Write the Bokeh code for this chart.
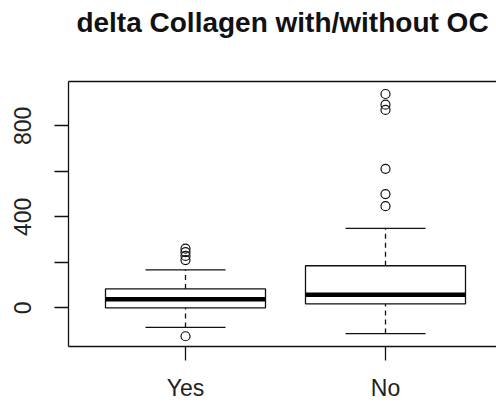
from bokeh.plotting import figure
from bokeh.models import Range1d, LinearAxis, FixedTicker
from bokeh.embed import file_html
from bokeh.resources import INLINE

# Group labels and five-number summaries for delta collagen
groups = ["Yes", "No"]
positions = [1, 2]
lower_whisker = [-86, -113]
q1 = [0, 17]
median = [38, 57]
q3 = [83, 185]
upper_whisker = [167, 349]

# Points beyond the whiskers
outlier_group = [1, 1, 1, 1, 1, 2, 2, 2, 2, 2, 2]
outlier_value = [-125, 260, 245, 228, 210, 940, 893, 870, 611, 500, 447]

y_ticks = [0, 200, 400, 600, 800]
y_labels = {0: "0", 200: "", 400: "400", 600: "", 800: "800"}

TITLE = "delta Collagen with/without OC"
FONT = "Liberation Sans"
INK = "#111111"

p = figure(width=496, height=403, output_backend="svg", toolbar_location=None,
           x_range=Range1d(0.415, 2.555), y_range=Range1d(-170, 995),
           x_axis_location=None, y_axis_location=None,
           min_border_left=68, min_border_right=0, min_border_top=81,
           min_border_bottom=55)
p.grid.visible = False
p.outline_line_color = None
p.background_fill_color = "white"
p.border_fill_color = "white"

# Left axis with every other label shown
yax = LinearAxis(ticker=FixedTicker(ticks=y_ticks), major_label_overrides=y_labels)
yax.major_label_orientation = "vertical"
# Bottom axis naming the groups
xax = LinearAxis(ticker=FixedTicker(ticks=positions),
                 major_label_overrides={pos: g for pos, g in zip(positions, groups)})
# Top edge of the plot box, carrying the heading
top = LinearAxis(ticker=FixedTicker(ticks=[]), major_label_text_font_size="0px",
                 axis_label=TITLE)
for ax in (yax, xax, top):
    ax.axis_line_color = INK
    ax.axis_line_width = 1.3
    ax.major_tick_line_color = INK
    ax.major_tick_line_width = 1.3
    ax.major_tick_out = 14
    ax.major_tick_in = 0
    ax.minor_tick_line_color = None
    ax.major_label_text_font = FONT
    ax.major_label_text_font_size = "23px"
    ax.major_label_text_color = "#222222"
yax.major_label_standoff = 23
xax.major_label_standoff = 14
top.major_tick_out = 0
top.major_label_standoff = 0
top.axis_label_text_font = FONT
top.axis_label_text_font_size = "28px"
top.axis_label_text_font_style = "bold"
top.axis_label_text_color = INK
top.axis_label_standoff = 44
p.add_layout(yax, "left")
p.add_layout(xax, "below")
p.add_layout(top, "above")

# Whiskers
p.segment(x0=positions, x1=positions, y0=q3, y1=upper_whisker,
          line_color=INK, line_width=1.3, line_dash="5 4")
p.segment(x0=positions, x1=positions, y0=lower_whisker, y1=q1,
          line_color=INK, line_width=1.3, line_dash="5 4")
caps_l = [x - 0.2 for x in positions]
caps_r = [x + 0.2 for x in positions]
p.segment(x0=caps_l, x1=caps_r, y0=upper_whisker, y1=upper_whisker,
          line_color=INK, line_width=1.3)
p.segment(x0=caps_l, x1=caps_r, y0=lower_whisker, y1=lower_whisker,
          line_color=INK, line_width=1.3)

# Boxes and medians
p.vbar(x=positions, width=0.8, bottom=q1, top=q3, fill_color="white",
       line_color=INK, line_width=1.3)
box_l = [x - 0.4 for x in positions]
box_r = [x + 0.4 for x in positions]
p.segment(x0=box_l, x1=box_r, y0=median, y1=median, line_color="black", line_width=4.5)

# Outliers
p.scatter(x=outlier_group, y=outlier_value, size=9, marker="circle",
          fill_color=None, line_color=INK, line_width=1.2)

open("out.html", "w").write(file_html(p, INLINE))
